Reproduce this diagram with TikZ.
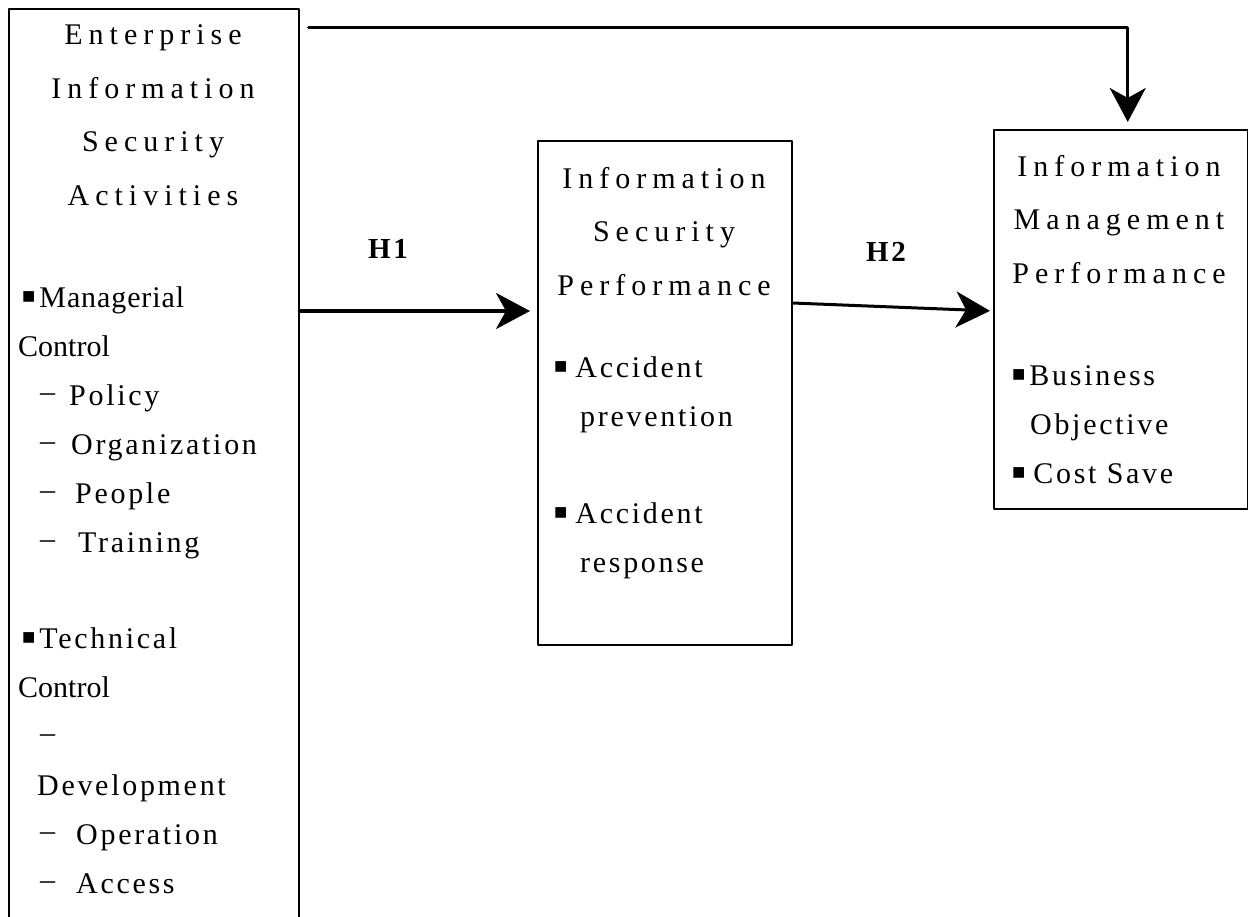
\documentclass[tikz,border=0pt]{standalone}
\usepackage{fontspec}
\setmainfont{Liberation Serif}
\newfontfamily\titlefont{Liberation Serif}[LetterSpace=20]
\newfontfamily\itemfont{Liberation Serif}[LetterSpace=9]
\usetikzlibrary{arrows.meta}
\newcommand{\blt}{\raisebox{4pt}{\fontsize{22}{22}\selectfont ■}}
\newcommand{\dsh}{\raisebox{4pt}{–}}

\begin{document}
\begin{tikzpicture}[line cap=round,line join=round,>={Stealth[length=34pt,width=36pt,inset=10pt]},x=1pt,y=-1pt,
  box/.style={draw,line width=1.5pt,rectangle,anchor=north west,inner sep=0pt},
  title/.style={align=center,anchor=base,inner sep=0pt,font=\titlefont\fontsize{30}{53.5}\selectfont},
  items/.style={align=left,anchor=base west,inner sep=0pt,font=\itemfont\fontsize{30}{49}\selectfont},
  arr/.style={->,line width=3.5pt},
  hyp/.style={inner sep=0pt,font=\itemfont\bfseries\fontsize{29}{29}\selectfont}]
\useasboundingbox (0,0) rectangle (1248,916);
\clip (0,0) rectangle (1248,916);
% the three boxes
\node[box,minimum width=290pt,minimum height=950pt] (act) at (8,8) {};
\node[box,minimum width=254pt,minimum height=504pt] (sec) at (537,140) {};
\node[box,minimum width=254pt,minimum height=379pt] (mgt) at (993,129) {};
% texts of the left box (placed at the baseline of their last line)
\node[title] (acttitle) at (153,205) {Enterprise\\Information\\Security\\Activities};
\node[items] (actmgr) at (18,552) {\hspace*{4pt}\blt\hspace*{4pt}{\rmfamily\addfontfeature{LetterSpace=3}Managerial}\\{\rmfamily Control}\\
  \hspace*{22pt}\dsh\hspace*{14pt}Policy\\\hspace*{22pt}\dsh\hspace*{16pt}Organization\\
  \hspace*{22pt}\dsh\hspace*{20pt}People\\\hspace*{22pt}\dsh\hspace*{23pt}Training};
\node[items] (acttec) at (18,893) {\hspace*{4pt}\blt\hspace*{4pt}Technical\\{\rmfamily Control}\\
  \hspace*{22pt}\dsh\\\hspace*{19pt}Development\\\hspace*{22pt}\dsh\hspace*{21pt}Operation\\
  \hspace*{22pt}\dsh\hspace*{21pt}Access};
% texts of the middle box
\node[title] (sectitle) at (664,295) {Information\\Security\\Performance};
\node[items] (secprev) at (554,426) {\blt\hspace*{8pt}Accident\\\hspace*{26pt}prevention};
\node[items] (secresp) at (554,572) {\blt\hspace*{8pt}Accident\\\hspace*{26pt}response};
% texts of the right box
\node[title] (mgttitle) at (1119,283) {Information\\Management\\Performance};
\node[items] (mgtitems) at (1012,483) {\blt\hspace*{4pt}Business\\\hspace*{18pt}Objective\\\blt\hspace*{8pt}Cost Save};
% hypotheses
\node[hyp] (h1) at (388,249) {H1};
\node[hyp] (h2) at (886,252) {H2};
\draw[arr,line width=3pt] ([xshift=9pt,yshift=-19pt]act.north east) -| ([xshift=7pt,yshift=7pt]mgt.north);
\draw[arr,shorten >=7pt] (act.east |- 0,311) -- (sec.west |- 0,311);
\draw[arr,line width=3pt,shorten >=3pt] (sec.east |- 0,303) -- (mgt.west |- 0,311);
\end{tikzpicture}
\end{document}
